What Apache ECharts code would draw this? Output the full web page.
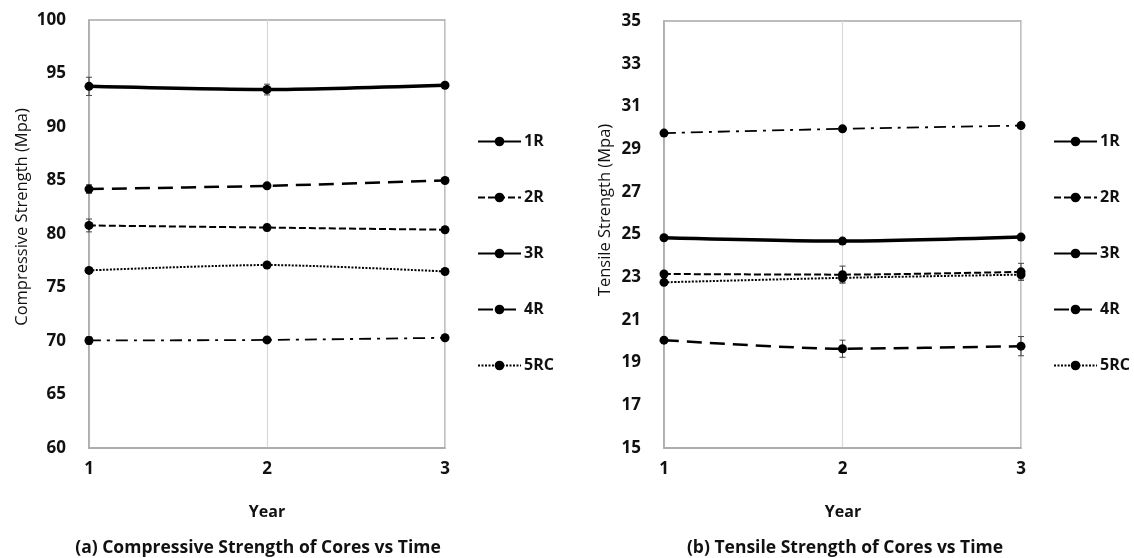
<!DOCTYPE html>
<html><head><meta charset="utf-8">
<script src="https://cdn.jsdelivr.net/npm/echarts@6/dist/echarts.min.js"></script>
<style>html,body{margin:0;padding:0;background:#fff}#c{width:1134px;height:558px}</style>
</head><body><div id="c"></div><script>
// ---- data ----
const years = [1, 2, 3];
const seriesNames = ['1R', '2R', '3R', '4R', '5RC'];
// (a) Compressive strength (MPa)
const comp1R = [93.8, 93.5, 93.9];
const comp2R = [80.8, 80.6, 80.4];
const comp3R = [70.05, 70.1, 70.3];
const comp4R = [84.2, 84.5, 85.0];
const comp5RC = [76.6, 77.1, 76.5];
const compErr1R = [0.85, 0.5, 0.2];
const compErr2R = [0.6, 0.3, 0.2];
const compErr3R = [0.35, 0.2, 0.2];
const compErr4R = [0.4, 0.2, 0.2];
const compErr5RC = [0.2, 0.2, 0.2];
// (b) Tensile strength (MPa)
const tens1R = [24.85, 24.69, 24.88];
const tens2R = [23.15, 23.12, 23.25];
const tens3R = [29.75, 29.95, 30.1];
const tens4R = [20.05, 19.65, 19.77];
const tens5RC = [22.76, 22.97, 23.12];
const tensErr1R = [0.1, 0.1, 0.1];
const tensErr2R = [0.1, 0.4, 0.4];
const tensErr3R = [0.1, 0.1, 0.1];
const tensErr4R = [0.1, 0.4, 0.45];
const tensErr5RC = [0.1, 0.2, 0.2];
// axis ranges
const compMin = 60, compMax = 100, compStep = 5;
const tensMin = 15, tensMax = 35, tensStep = 2;
const yTitles = ['Compressive Strength (Mpa)', 'Tensile Strength (Mpa)'];
const xTitle = 'Year';
const captions = ['(a) Compressive Strength of Cores vs Time', '(b) Tensile Strength of Cores vs Time'];

const compVals = [comp1R, comp2R, comp3R, comp4R, comp5RC];
const compErrs = [compErr1R, compErr2R, compErr3R, compErr4R, compErr5RC];
const tensVals = [tens1R, tens2R, tens3R, tens4R, tens5RC];
const tensErrs = [tensErr1R, tensErr2R, tensErr3R, tensErr4R, tensErr5RC];

// ---- styles ----
const FONT = '"Open Sans", "DejaVu Sans", sans-serif';
const TXT = '#111';
const lineStyles = {
  '1R': { width: 3.5, type: 'solid' },
  '2R': { width: 2, type: [7, 3] },
  '3R': { width: 1.8, type: [12, 6, 3, 6] },
  '4R': { width: 2.5, type: [15, 8] },
  '5RC': { width: 2, type: [2, 1.5] }
};

function errRender(params, api) {
  const x = api.value(0), lo = api.value(1), hi = api.value(2);
  const p1 = api.coord([x, lo]), p2 = api.coord([x, hi]);
  const cw = 3, st = { stroke: '#444', lineWidth: 1 };
  return { type: 'group', children: [
    { type: 'line', shape: { x1: p1[0], y1: p1[1], x2: p2[0], y2: p2[1] }, style: st },
    { type: 'line', shape: { x1: p1[0] - cw, y1: p1[1], x2: p1[0] + cw, y2: p1[1] }, style: st },
    { type: 'line', shape: { x1: p2[0] - cw, y1: p2[1], x2: p2[0] + cw, y2: p2[1] }, style: st }
  ]};
}

const series = [];
[[compVals, compErrs], [tensVals, tensErrs]].forEach(([vals, errs], gi) => {
  seriesNames.forEach((n, si) => {
    series.push({
      type: 'custom', name: n + ' err' + gi, xAxisIndex: gi, yAxisIndex: gi,
      renderItem: errRender, z: 2, silent: true,
      data: years.map((x, i) => [x, vals[si][i] - errs[si][i], vals[si][i] + errs[si][i]])
    });
    series.push({
      type: 'line', name: n, xAxisIndex: gi, yAxisIndex: gi,
      data: years.map((x, i) => [x, vals[si][i]]),
      smooth: 0.25, symbol: 'circle', symbolSize: 9, z: 3,
      itemStyle: { color: '#000' },
      lineStyle: { color: '#000', width: lineStyles[n].width, type: lineStyles[n].type, cap: 'butt' },
      emphasis: { disabled: true }
    });
  });
});

const legendData = seriesNames.map(n => n === '3R' ? { name: n, lineStyle: { type: 'solid', width: 1.8 } } : { name: n });
const legendBase = {
  orient: 'vertical', top: 128.5, itemWidth: 43, itemHeight: 12, itemGap: 40,
  data: legendData, selectedMode: false,
  textStyle: { fontFamily: FONT, fontSize: 16, fontWeight: 'bold', color: TXT, padding: [0, 0, 0, -2] }
};

const grids = [
  { left: 89, top: 20, width: 356, height: 428 },
  { left: 664, top: 21, width: 357, height: 427 }
];
const common = { show: true, borderColor: '#a8a8a8', borderWidth: 1.5, containLabel: false };

function xAx(gi) {
  return { type: 'value', gridIndex: gi, min: years[0], max: years[years.length - 1], interval: 1,
    axisLine: { show: true, lineStyle: { color: '#a8a8a8', width: 1.5 } }, axisTick: { show: false },
    splitLine: { show: true, lineStyle: { color: '#d9d9d9', width: 1.2 } },
    axisLabel: { fontFamily: FONT, fontSize: 17, fontWeight: 'bold', color: TXT, margin: 13 } };
}
function yAx(gi, mn, mx, st) {
  return { type: 'value', gridIndex: gi, min: mn, max: mx, interval: st,
    axisLine: { show: true, lineStyle: { color: '#a8a8a8', width: 1.5 } }, axisTick: { show: false },
    splitLine: { show: false },
    axisLabel: { fontFamily: FONT, fontSize: 17, fontWeight: 'bold', color: TXT, margin: 23 } };
}

const txt = (text, x, y, size, weight, rot) => ({
  type: 'text', x, y, rotation: rot || 0, silent: true,
  style: { text, fontFamily: FONT, fontSize: size, fontWeight: weight, fill: TXT, align: 'center', verticalAlign: 'middle' }
});

const option = {
  backgroundColor: '#fff',
  animation: false,
  grid: grids.map(g => Object.assign({}, common, g)),
  xAxis: [xAx(0), xAx(1)],
  yAxis: [yAx(0, compMin, compMax, compStep), yAx(1, tensMin, tensMax, tensStep)],
  legend: [Object.assign({}, legendBase, { left: 472 }), Object.assign({}, legendBase, { left: 1048 })],
  graphic: [
    txt(yTitles[0], 22, 217, 16.5, 'normal', Math.PI / 2),
    txt(yTitles[1], 605, 210, 16.5, 'normal', Math.PI / 2),
    txt(xTitle, 267, 512, 16, 'bold'),
    txt(xTitle, 843, 512, 16, 'bold'),
    txt(captions[0], 258, 548, 17.5, 'bold'),
    txt(captions[1], 845, 548, 17.5, 'bold')
  ],
  series
};
const chart = echarts.init(document.getElementById('c'), null, { renderer: 'canvas' });
chart.setOption(option);
</script></body></html>
